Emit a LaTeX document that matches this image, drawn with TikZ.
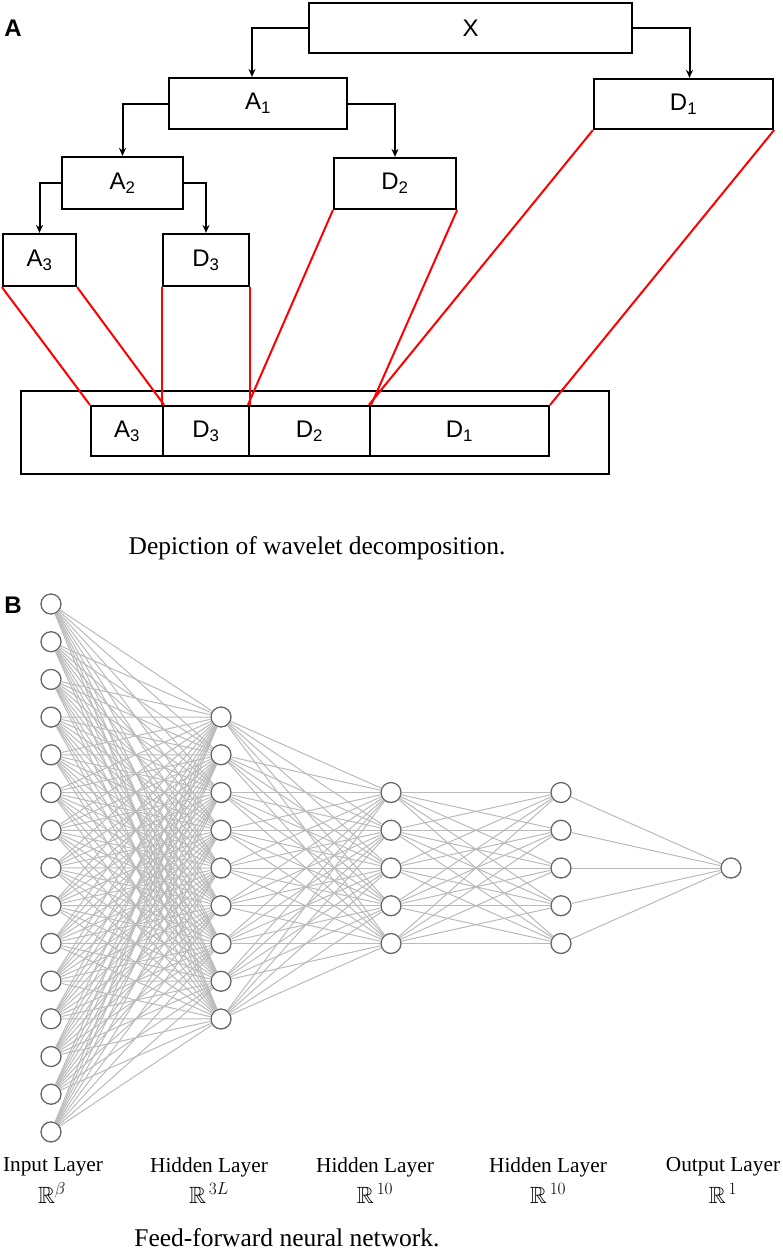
\documentclass[tikz,border=0pt]{standalone}
\usepackage{fontspec}
\usepackage{amssymb}
\setmainfont{Liberation Serif}
\newfontfamily\boxfont{Liberation Sans}
\usetikzlibrary{arrows.meta}

\begin{document}
\begin{tikzpicture}[x=1pt,y=-1pt,
        wbox/.style={draw,line width=2.2pt,inner sep=0pt,
            font=\boxfont\fontsize{24}{28}\selectfont},
        link/.style={line width=2pt,-{Stealth[length=8pt,width=7pt]}},
        redline/.style={draw=red,line width=2pt},
        neuron/.style={circle,draw=black!60,line width=1.3pt,fill=white,
            minimum size=20pt,inner sep=0pt},
        wire/.style={draw=black!27,line width=1pt},
        layer/.style={font=\fontsize{21.3}{24}\selectfont,align=center},
        space/.style={font=\fontsize{23.5}{25}\selectfont},
        caption/.style={font=\fontsize{25.5}{30}\selectfont},
        panel/.style={font=\boxfont\bfseries\fontsize{24}{28}\selectfont}]

        \useasboundingbox (0,0) rectangle (782,1256);

        \node[panel] (panelA) at (13,28) {A};
        \node[panel] (panelB) at (13,605) {B};

        \node[wbox,minimum width=323pt,minimum height=50pt] (X) at (470.5,28) {X};
        \node[wbox,minimum width=178pt,minimum height=51pt] (A1) at (258,103.5) {A\textsubscript{1}};
        \node[wbox,minimum width=179pt,minimum height=50pt] (D1) at (683.5,104) {D\textsubscript{1}};
        \node[wbox,minimum width=121pt,minimum height=52pt] (A2) at (122.5,183) {A\textsubscript{2}};
        \node[wbox,minimum width=122pt,minimum height=51pt] (D2) at (395,183.5) {D\textsubscript{2}};
        \node[wbox,minimum width=73pt,minimum height=52pt] (A3) at (39.5,260) {A\textsubscript{3}};
        \node[wbox,minimum width=86pt,minimum height=52pt] (D3) at (206,260) {D\textsubscript{3}};

        \draw[link] (X.west) -| ([xshift=-6pt]A1.north);
        \draw[link] (X.east) -| ([xshift=6pt]D1.north);
        \draw[link] (A1.west) -| (A2.north);
        \draw[link] (A1.east) -| (D2.north);
        \draw[link] (A2.west) -| (A3.north);
        \draw[link] (A2.east) -| (D3.north);

        \node[draw,line width=2.2pt,minimum width=588pt,minimum height=83pt] (frame) at (315,432.5) {};
        \node[wbox,minimum width=72pt,minimum height=50pt] (sA3) at (127,431) {A\textsubscript{3}};
        \node[wbox,minimum width=86pt,minimum height=50pt] (sD3) at (206,431) {D\textsubscript{3}};
        \node[wbox,minimum width=121pt,minimum height=50pt] (sD2) at (309.5,431) {D\textsubscript{2}};
        \node[wbox,minimum width=179pt,minimum height=50pt] (sD1) at (459.5,431) {D\textsubscript{1}};

        \draw[redline] (A3.south west) -- (sA3.north west);
        \draw[redline] (A3.south east) -- (sA3.north east);
        \draw[redline] (D3.south west) -- (sD3.north west);
        \draw[redline] (D3.south east) -- (sD3.north east);
        \draw[redline] (D2.south west) -- (sD2.north west);
        \draw[redline] (D2.south east) -- (sD2.north east);
        \draw[redline] (D1.south west) -- (sD1.north west);
        \draw[redline] (D1.south east) -- (sD1.north east);

        \node[caption] (capA) at (317,548) {Depiction of wavelet decomposition.};

        \foreach \i in {1,...,15}
            \node[neuron] (in\i) at (51,{604+37.71*(\i-1)}) {};
        \foreach \i in {1,...,9}
            \node[neuron] (ha\i) at (221,{717+37.75*(\i-1)}) {};
        \foreach \i in {1,...,5} {
            \node[neuron] (hb\i) at (391,{792.5+37.75*(\i-1)}) {};
            \node[neuron] (hc\i) at (561,{792.5+37.75*(\i-1)}) {};
        }
        \node[neuron] (out) at (731,868) {};

        \foreach \i in {1,...,15}
            \foreach \j in {1,...,9}
                \draw[wire] (in\i) -- (ha\j);
        \foreach \i in {1,...,9}
            \foreach \j in {1,...,5}
                \draw[wire] (ha\i) -- (hb\j);
        \foreach \i in {1,...,5} {
            \foreach \j in {1,...,5}
                \draw[wire] (hb\i) -- (hc\j);
            \draw[wire] (hc\i) -- (out);
        }

        \node[layer] (lin) at (53,1167) {Input Layer};
        \node[space] (rin) at (52,1193) {$\mathbb{R}^{\beta}$};
        \node[layer] (lha) at (209,1167) {Hidden Layer};
        \node[space] (rha) at (209,1193) {$\mathbb{R}^{\,3L}$};
        \node[layer] (lhb) at (375,1167) {Hidden Layer};
        \node[space] (rhb) at (375,1193) {$\mathbb{R}^{\,10}$};
        \node[layer] (lhc) at (548,1167) {Hidden Layer};
        \node[space] (rhc) at (548,1193) {$\mathbb{R}^{\,10}$};
        \node[layer] (lout) at (723,1167) {Output Layer};
        \node[space] (rout) at (723,1193) {$\mathbb{R}^{\,1}$};

        \node[caption] (capB) at (287,1238) {Feed-forward neural network.};

    \end{tikzpicture}
\end{document}
